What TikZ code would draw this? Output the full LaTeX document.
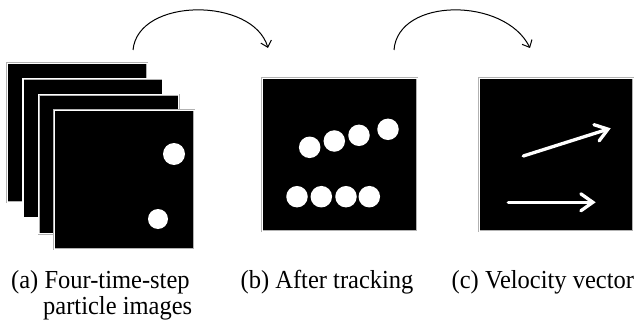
\documentclass[tikz,border=0pt]{standalone}
\usepackage{fontspec}
\setmainfont{Liberation Serif}
\usetikzlibrary{arrows.meta}
\begin{document}
\begin{tikzpicture}[x=1pt,y=-1pt,
 frame/.style={draw=gray!60, double=white, double distance=1.2pt, line width=0.4pt, fill=black, inner sep=0pt, anchor=north west},
 dot/.style={circle, fill=white, inner sep=0pt, minimum size=21.5pt},
 vec/.style={draw=white, line width=3.3pt, line cap=round, -{Straight Barb[length=12pt,width=17pt,line cap=round]}},
 flow/.style={line width=1pt, -{Straight Barb[length=6pt,width=11pt]}},
 captext/.style={font=\rmfamily\fontsize{24.5}{30}\selectfont, inner sep=0pt, anchor=base west, yscale=1.06, transform shape}]
\useasboundingbox (0,0) rectangle (638,329);
% stack of four frames
\node[frame, minimum width=140pt, minimum height=139pt] (f1) at (7,63) {};
\node[frame, minimum width=140pt, minimum height=139pt] (f2) at (22.7,78.7) {};
\node[frame, minimum width=140pt, minimum height=139pt] (f3) at (38.4,94.4) {};
\node[frame, minimum width=140pt, minimum height=139pt] (f4) at (54,110) {};
\node[dot, minimum size=22pt] (a1) at (174,154) {};
\node[dot, minimum size=20pt] (a2) at (158,219) {};
% after tracking
\node[frame, minimum width=155pt, minimum height=153pt] (fb) at (262,78) {};
\node[dot] (b1) at (309.7,147.3) {};
\node[dot] (b2) at (334.3,141) {};
\node[dot] (b3) at (359,135.3) {};
\node[dot] (b4) at (388,129.3) {};
\node[dot] (b5) at (297,196.7) {};
\node[dot] (b6) at (321.3,196.7) {};
\node[dot] (b7) at (346,196.7) {};
\node[dot] (b8) at (369.3,196.7) {};
% velocity vectors
\node[frame, minimum width=154pt, minimum height=153pt] (fc) at (479,78) {};
\coordinate (v1s) at (523.3,156);
\coordinate (v1e) at (610.7,128.3);
\coordinate (v2s) at (508.3,202.3);
\coordinate (v2e) at (595.7,202.3);
\draw[vec] (v1s) -- (v1e);
\draw[vec] (v2s) -- (v2e);
% curved arrows
\coordinate (c1s) at (133,50);
\coordinate (c1e) at (268,48);
\coordinate (c2s) at (394,50);
\coordinate (c2e) at (530,48);
\draw[flow] (c1s) .. controls (138,-3) and (253,-3) .. (c1e);
\draw[flow] (c2s) .. controls (398,-3) and (505,-3) .. (c2e);
% captions
\node[captext] (ca1) at (11,288) {(a) Four-time-step};
\node[captext] (ca2) at (43,314) {particle images};
\node[captext] (cb) at (240.5,288) {(b) After tracking};
\node[captext] (cc) at (451.5,288) {(c) Velocity vector};
\end{tikzpicture}
\end{document}
